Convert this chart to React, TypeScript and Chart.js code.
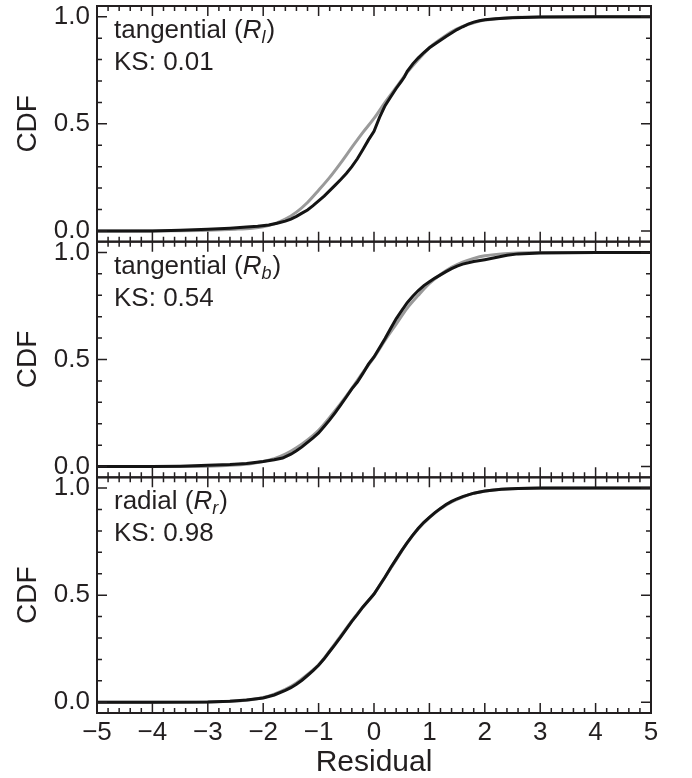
import React, { useEffect, useRef } from 'react';
import { Chart, registerables } from 'chart.js';

Chart.register(...registerables);

// ---------- data ----------
const xTicks = [-5, -4, -3, -2, -1, 0, 1, 2, 3, 4, 5];
const yTicks = [0, 0.5, 1];

const panelNames = ['tangential', 'tangential', 'radial'];
const panelSubscripts = ['l', 'b', 'r'];
const ksValues = ['0.01', '0.54', '0.98'];

// model (gray) curves share one x grid
const modelX = [-5, -3.5, -3, -2.5, -2.2, -2, -1.8, -1.6, -1.4, -1.2, -1, -0.8, -0.6, -0.4, -0.2, 0, 0.2, 0.4, 0.6, 0.8, 1, 1.2, 1.4, 1.6, 1.8, 2, 2.3, 2.6, 3, 4, 5];
const modelL = [0, 0.001, 0.003, 0.008, 0.013, 0.02, 0.033, 0.055, 0.088, 0.133, 0.19, 0.25, 0.318, 0.39, 0.46, 0.525, 0.6, 0.67, 0.74, 0.8, 0.855, 0.895, 0.93, 0.955, 0.972, 0.984, 0.993, 0.997, 0.999, 1, 1];
const modelB = [0, 0.001, 0.002, 0.008, 0.015, 0.024, 0.037, 0.058, 0.088, 0.125, 0.17, 0.23, 0.295, 0.365, 0.44, 0.51, 0.59, 0.665, 0.74, 0.8, 0.855, 0.897, 0.93, 0.955, 0.972, 0.984, 0.993, 0.997, 0.999, 1, 1];
const modelR = [0, 0, 0.001, 0.006, 0.013, 0.022, 0.038, 0.06, 0.09, 0.13, 0.175, 0.24, 0.31, 0.38, 0.445, 0.505, 0.585, 0.665, 0.745, 0.81, 0.862, 0.903, 0.935, 0.958, 0.975, 0.985, 0.994, 0.998, 0.999, 1, 1];

// empirical (black) curves
const empLX = [-5, -4, -3.5, -3, -2.6, -2.3, -2.1, -1.9, -1.75, -1.6, -1.5, -1.4, -1.3, -1.2, -1.1, -1, -0.9, -0.8, -0.7, -0.6, -0.5, -0.4, -0.3, -0.2, -0.1, 0, 0.1, 0.2, 0.3, 0.4, 0.5, 0.55, 0.6, 0.7, 0.8, 0.9, 1, 1.1, 1.2, 1.3, 1.4, 1.5, 1.6, 1.7, 1.8, 1.9, 2, 2.2, 2.5, 3, 4, 5];
const empLY = [0, 0, 0.003, 0.008, 0.013, 0.018, 0.022, 0.028, 0.036, 0.046, 0.055, 0.068, 0.083, 0.098, 0.118, 0.14, 0.163, 0.188, 0.214, 0.24, 0.268, 0.3, 0.337, 0.38, 0.425, 0.465, 0.53, 0.585, 0.625, 0.665, 0.7, 0.72, 0.745, 0.78, 0.808, 0.833, 0.855, 0.873, 0.89, 0.908, 0.924, 0.94, 0.953, 0.965, 0.975, 0.981, 0.986, 0.991, 0.995, 0.999, 1, 1];

const empBX = [-5, -4, -3.5, -3, -2.6, -2.3, -2, -1.8, -1.65, -1.5, -1.4, -1.3, -1.2, -1.1, -1, -0.9, -0.8, -0.7, -0.6, -0.5, -0.4, -0.3, -0.2, -0.1, 0, 0.1, 0.2, 0.3, 0.4, 0.5, 0.6, 0.7, 0.8, 0.9, 1, 1.1, 1.2, 1.3, 1.4, 1.5, 1.6, 1.8, 2, 2.2, 2.4, 2.6, 3, 4, 5];
const empBY = [0, 0, 0.002, 0.006, 0.01, 0.015, 0.024, 0.032, 0.04, 0.058, 0.074, 0.092, 0.113, 0.134, 0.157, 0.187, 0.218, 0.252, 0.288, 0.325, 0.363, 0.395, 0.435, 0.478, 0.512, 0.555, 0.598, 0.645, 0.69, 0.728, 0.765, 0.795, 0.822, 0.845, 0.863, 0.88, 0.895, 0.91, 0.924, 0.936, 0.945, 0.957, 0.966, 0.976, 0.987, 0.993, 0.997, 1, 1];

const empRX = [-5, -4, -3, -2.6, -2.3, -2, -1.8, -1.6, -1.5, -1.4, -1.3, -1.2, -1.1, -1, -0.9, -0.8, -0.7, -0.6, -0.5, -0.4, -0.3, -0.2, -0.1, 0, 0.1, 0.2, 0.3, 0.4, 0.5, 0.6, 0.7, 0.8, 0.9, 1, 1.1, 1.2, 1.3, 1.4, 1.5, 1.6, 1.8, 2, 2.3, 2.6, 3, 4, 5];
const empRY = [0, 0, 0.001, 0.005, 0.011, 0.02, 0.034, 0.056, 0.068, 0.084, 0.103, 0.125, 0.148, 0.173, 0.203, 0.237, 0.27, 0.305, 0.342, 0.378, 0.41, 0.445, 0.475, 0.505, 0.545, 0.585, 0.628, 0.668, 0.708, 0.745, 0.78, 0.812, 0.84, 0.863, 0.885, 0.905, 0.923, 0.938, 0.95, 0.96, 0.976, 0.986, 0.994, 0.998, 1, 1, 1];

// ---------- helpers ----------
const FONT = '"Liberation Sans", Arial, Helvetica, sans-serif';
const INK = '#231f20';
const pts = (xs: number[], ys: number[]) => xs.map((x, i) => ({ x, y: ys[i] }));
const panelAxes = ['yT', 'yM', 'yB'];

const framePlugin = {
  id: 'frameTicks',
  afterDatasetsDraw(chart: any) {
    const ctx = chart.ctx;
    const xs = chart.scales.x;
    const { left, right } = chart.chartArea;
    ctx.save();
    ctx.strokeStyle = INK;
    panelAxes.forEach((id, p) => {
      const ys = chart.scales[id];
      const top = ys.top;
      const bottom = ys.bottom;
      ctx.lineWidth = 1.5;
      ctx.beginPath();
      for (let i = 0; i <= 50; i++) {
        const v = -5 + i * 0.2;
        const px = xs.getPixelForValue(v);
        const len = i % 5 === 0 ? 10 : 5;
        ctx.moveTo(px, bottom);
        ctx.lineTo(px, bottom - len);
        ctx.moveTo(px, top);
        ctx.lineTo(px, top + len);
      }
      for (let i = 0; i <= 10; i++) {
        const v = i * 0.1;
        const py = ys.getPixelForValue(v);
        const len = i % 5 === 0 ? 10 : 5;
        ctx.moveTo(left, py);
        ctx.lineTo(left + len, py);
        ctx.moveTo(right, py);
        ctx.lineTo(right - len, py);
      }
      ctx.stroke();
      ctx.lineWidth = 2;
      ctx.strokeRect(left, top, right - left, bottom - top);

      // annotation text
      ctx.fillStyle = INK;
      ctx.textBaseline = 'alphabetic';
      ctx.textAlign = 'left';
      let x = left + 17;
      const y1 = top + 32;
      ctx.font = `26px ${FONT}`;
      const s1 = panelNames[p] + ' (';
      ctx.fillText(s1, x, y1);
      x += ctx.measureText(s1).width;
      ctx.font = `italic 26px ${FONT}`;
      ctx.fillText('R', x, y1);
      x += ctx.measureText('R').width;
      ctx.font = `italic 18px ${FONT}`;
      ctx.fillText(panelSubscripts[p], x, y1 + 5);
      x += ctx.measureText(panelSubscripts[p]).width + 1;
      ctx.font = `26px ${FONT}`;
      ctx.fillText(')', x, y1);
      ctx.fillText('KS: ' + ksValues[p], left + 17, top + 64);
    });
    ctx.restore();
  },
};

const yAxis = () => ({
  type: 'linear',
  position: 'left',
  stack: 'cdf',
  stackWeight: 1,
  min: -0.05,
  max: 1.05,
  afterBuildTicks: (s: any) => {
    s.ticks = yTicks.map((v) => ({ value: v }));
  },
  afterFit: (s: any) => {
    s.width = 97;
    s.paddingTop = 0;
    s.paddingBottom = 0;
    s.paddingLeft = 0;
    s.paddingRight = 0;
  },
  grid: { display: false, drawTicks: false },
  border: { display: false },
  ticks: {
    padding: 7,
    color: INK,
    font: { family: FONT, size: 26 },
    callback: (v: any) => Number(v).toFixed(1),
  },
  title: {
    display: true,
    text: 'CDF',
    color: INK,
    font: { family: FONT, size: 28 },
    padding: { top: 11, bottom: 0 },
  },
});

export default function App() {
  const ref = useRef<HTMLCanvasElement>(null);
  useEffect(() => {
    if (!ref.current) return;
    const series = [
      { axis: 'yT', model: modelL, ex: empLX, ey: empLY },
      { axis: 'yM', model: modelB, ex: empBX, ey: empBY },
      { axis: 'yB', model: modelR, ex: empRX, ey: empRY },
    ];
    const datasets: any[] = [];
    series.forEach((s) => {
      datasets.push({
        data: pts(s.ex, s.ey),
        yAxisID: s.axis,
        borderColor: '#141414',
        borderWidth: 3,
        pointRadius: 0,
        tension: 0,
        fill: false,
        order: 1,
      });
    });
    series.forEach((s) => {
      datasets.push({
        data: pts(modelX, s.model),
        yAxisID: s.axis,
        borderColor: '#9a9a9a',
        borderWidth: 3,
        pointRadius: 0,
        cubicInterpolationMode: 'monotone',
        fill: false,
        order: 2,
      });
    });
    const chart = new Chart(ref.current, {
      type: 'line',
      data: { datasets },
      options: {
        responsive: false,
        animation: false,
        layout: { padding: { top: 6, right: 41, left: 0, bottom: 0 } },
        plugins: { legend: { display: false }, tooltip: { enabled: false } },
        scales: {
          x: {
            type: 'linear',
            position: 'bottom',
            min: -5,
            max: 5,
            afterBuildTicks: (s: any) => {
              s.ticks = xTicks.map((v) => ({ value: v }));
            },
            afterFit: (s: any) => {
              s.height = 65;
              s.paddingLeft = 0;
              s.paddingRight = 0;
            },
            grid: { display: false, drawTicks: false },
            border: { display: false },
            ticks: {
              padding: 4,
              color: INK,
              autoSkip: false,
              maxRotation: 0,
              font: { family: FONT, size: 26 },
              callback: (v: any) => (Number(v) < 0 ? '\u2212' + Math.abs(Number(v)) : String(v)),
            },
            title: {
              display: true,
              text: 'Residual',
              color: INK,
              font: { family: FONT, size: 30, lineHeight: 1 },
              padding: { top: 0, bottom: 0 },
            },
          },
          yB: yAxis(),
          yM: yAxis(),
          yT: yAxis(),
        } as any,
      },
      plugins: [framePlugin],
    } as any);
    return () => chart.destroy();
  }, []);
  return (
    <div style={{ position: 'absolute', left: 0, top: 0, width: 692, height: 778, background: '#fff' }}>
      <canvas ref={ref} width={692} height={778} style={{ display: 'block' }} />
    </div>
  );
}
